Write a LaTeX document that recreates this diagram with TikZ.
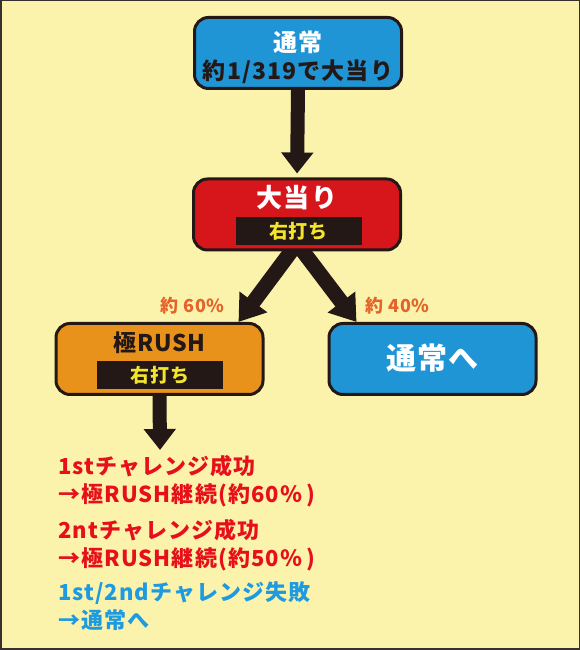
\documentclass[tikz,border=0pt]{standalone}
\usepackage{fontspec}
\setmainfont{Noto Sans CJK JP}
\usetikzlibrary{arrows.meta}
\definecolor{bgy}{HTML}{FBF3AB}
\definecolor{bluebox}{HTML}{1F95D6}
\definecolor{redbox}{HTML}{D7161C}
\definecolor{orangebox}{HTML}{E8921C}
\definecolor{darkc}{HTML}{231815}
\definecolor{yellowtxt}{HTML}{F2E52C}
\definecolor{labelc}{HTML}{E4632A}
\definecolor{redtxt}{HTML}{E60F1A}
\definecolor{bluetxt}{HTML}{1E9BE0}
\pgfdeclarelayer{bg}
\pgfdeclarelayer{arr}
\pgfsetlayers{bg,arr,main}
\begin{document}
\begin{tikzpicture}[x=1pt,y=1pt,
  box/.style={draw=darkc, line width=3pt, rounded corners=14pt, minimum width=207pt, minimum height=71pt, inner sep=0pt},
  band/.style={fill=darkc, minimum width=126pt, minimum height=28pt, inner sep=0pt, text=yellowtxt, font=\bfseries\fontsize{19}{19}\selectfont\addfontfeatures{LetterSpace=4}},
  bigarrow/.style={draw=darkc, line width=14pt, -{Triangle[width=31pt,length=21pt]}},
  diagarrow/.style={draw=darkc, line width=15pt, -{Triangle[width=33pt,length=25pt]}},
  pct/.style={text=labelc, inner sep=0pt, font=\bfseries\fontsize{18}{18}\selectfont\addfontfeatures{LetterSpace=4}},
  note/.style={anchor=west, inner sep=0pt, align=left, font=\bfseries\fontsize{22}{28}\selectfont\addfontfeatures{LetterSpace=5}},
]
\begin{pgfonlayer}{bg}
\fill[bgy] (0,0) rectangle (580,650);
\draw[darkc!90, line width=1.5pt] (0.75,0.75) rectangle (579.25,649.25);
\end{pgfonlayer}

\node[box, fill=bluebox] (tsujo) at (298,597) {};
\node[text=white, inner sep=0pt, font=\bfseries\fontsize{24}{24}\selectfont\addfontfeatures{LetterSpace=4}] (tsujoT) at (298,607.5) {通常};
\node[text=darkc, inner sep=0pt, font=\bfseries\fontsize{23}{23}\selectfont\addfontfeatures{LetterSpace=5}] (tsujoS) at (298,578) {約1/319で大当り};

\node[box, fill=redbox] (oatari) at (297,435.5) {};
\node[text=white, inner sep=0pt, font=\bfseries\fontsize{26}{26}\selectfont\addfontfeatures{LetterSpace=4}] (oatariT) at (297,452.5) {大当り};
\node[band] (band1) at (298.5,419) {右打ち};

\node[box, fill=orangebox] (rush) at (159.5,291) {};
\node[text=darkc, inner sep=0pt, font=\bfseries\fontsize{23}{23}\selectfont\addfontfeatures{LetterSpace=3}] (rushT) at (159.5,307.5) {極RUSH};
\node[band] (band2) at (160,275) {右打ち};

\node[box, fill=bluebox] (back) at (432.5,291) {};
\node[text=white, inner sep=0pt, font=\bfseries\fontsize{30}{30}\selectfont\addfontfeatures{LetterSpace=3}] (backT) at (432.5,292) {通常へ};

\node[pct] (p60) at (192.5,344.5) {約 60\%};
\node[pct] (p40) at (397.5,344.5) {約 40\%};

\begin{pgfonlayer}{arr}
\draw[bigarrow, shorten >=4pt] (tsujo.south) -- (oatari.north);
\draw[diagarrow] ([yshift=8pt]oatari.south) -- ([xshift=-26pt]rush.north east);
\draw[diagarrow] ([yshift=8pt]oatari.south) -- ([xshift=29pt]back.north west);
\coordinate (rushout) at (160,200);
\draw[bigarrow] (rush.south) -- (rushout);
\end{pgfonlayer}

\node[note, text=redtxt] (n1) at (58,168.5) {1stチャレンジ成功\\→極RUSH継続(約60％\hspace{4pt})};
\node[note, text=redtxt] (n2) at (58,105) {2ntチャレンジ成功\\→極RUSH継続(約50％\hspace{4pt})};
\node[note, text=bluetxt] (n3) at (58,43.5) {1st/2ndチャレンジ失敗\\→通常へ};
\end{tikzpicture}
\end{document}
